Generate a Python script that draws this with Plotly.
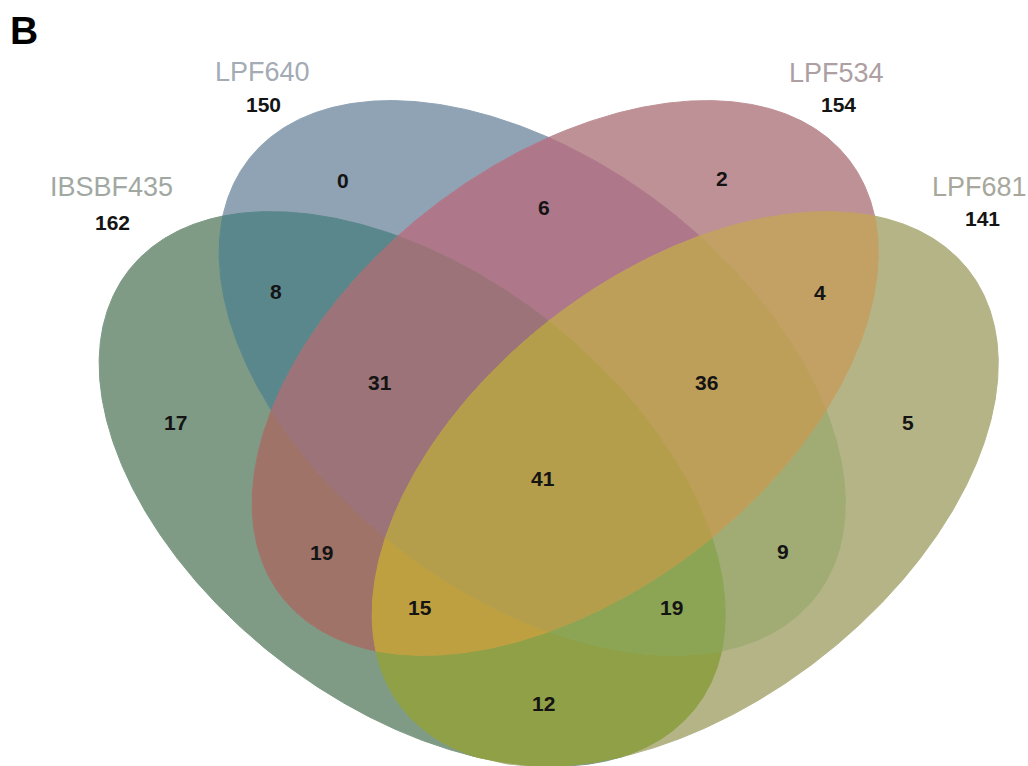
import numpy as np
import plotly.graph_objects as go

# ---- data -------------------------------------------------------------
set_names = ["IBSBF435", "LPF640", "LPF534", "LPF681"]
set_totals = [162, 150, 154, 141]

# region membership (IBSBF435, LPF640, LPF534, LPF681) -> count
region_keys = ["1000", "0100", "0010", "0001",
               "1100", "0110", "0011", "1010", "0101", "1001",
               "1110", "0111", "1011", "1101", "1111"]
region_counts = [17, 0, 2, 5,
                 8, 6, 4, 19, 9, 12,
                 31, 36, 15, 19, 41]

# ---- layout (drawing units = screen pixels, y pointing down) ----------
AXIS_X = 548.7
ELL_A, ELL_B, ELL_TILT = 358.0, 216.4, np.radians(37.5)
# (centre x, centre y, tilt sign) for each set, in set order
ell_layout = [(AXIS_X - 136.5, 489.0, +1),
              (AXIS_X - 16.5, 378.0, +1),
              (AXIS_X + 16.5, 378.0, -1),
              (AXIS_X + 136.5, 489.0, -1)]
ells = [(cx, cy, ELL_A, ELL_B, s*ELL_TILT) for cx, cy, s in ell_layout]


def ell_xy(e, t):
    cx, cy, a, b, th = e
    ct, st = np.cos(th), np.sin(th)
    return (cx + a*np.cos(t)*ct - b*np.sin(t)*st,
            cy + a*np.cos(t)*st + b*np.sin(t)*ct)


def ell_f(e, x, y):
    cx, cy, a, b, th = e
    dx, dy = x - cx, y - cy
    ct, st = np.cos(th), np.sin(th)
    u = dx*ct + dy*st; v = -dx*st + dy*ct
    return (u/a)**2 + (v/b)**2 - 1


# split every outline into arcs at its crossings with the other outlines
N = 8000
arcs = []
for k, e in enumerate(ells):
    t = np.linspace(0, 2*np.pi, N, endpoint=False)
    x, y = ell_xy(e, t)
    cuts = []
    for j, f in enumerate(ells):
        if j == k:
            continue
        g = np.sign(ell_f(f, x, y))
        for i in np.nonzero(g != np.roll(g, -1))[0]:
            t0, t1 = t[i], t[i] + 2*np.pi/N
            g0 = g[i]
            for _ in range(60):
                tm = 0.5*(t0 + t1)
                if np.sign(ell_f(f, *ell_xy(e, tm))) == g0:
                    t0 = tm
                else:
                    t1 = tm
            cuts.append((0.5*(t0 + t1)) % (2*np.pi))
    cuts = np.sort(cuts)
    for i in range(len(cuts)):
        ta = cuts[i]; tb = cuts[(i+1) % len(cuts)]
        if tb <= ta:
            tb += 2*np.pi
        ts = np.linspace(ta, tb, max(int((tb-ta)/(2*np.pi)*1200), 6))
        px, py = ell_xy(e, ts)
        mx, my = ell_xy(e, 0.5*(ta + tb))
        mem = [ell_f(f, mx, my) < 0 for f in ells]
        mi = mem.copy(); mi[k] = True
        mo = mem.copy(); mo[k] = False
        arcs.append((px, py, "".join("1" if q else "0" for q in mi),
                     "".join("1" if q else "0" for q in mo)))


def region_outline(key):
    """Chain the arcs bounding one region into closed loops."""
    segs = [(a[0], a[1]) for a in arcs if a[2] == key or a[3] == key]
    used = [False]*len(segs)
    X, Y = [], []
    for s0 in range(len(segs)):
        if used[s0]:
            continue
        used[s0] = True
        xs = list(segs[s0][0]); ys = list(segs[s0][1])
        while True:
            ex, ey = xs[-1], ys[-1]
            best, bd, rev = None, 1e18, False
            for i, (sx, sy) in enumerate(segs):
                if used[i]:
                    continue
                d0 = np.hypot(sx[0]-ex, sy[0]-ey); d1 = np.hypot(sx[-1]-ex, sy[-1]-ey)
                if d0 < bd:
                    best, bd, rev = i, d0, False
                if d1 < bd:
                    best, bd, rev = i, d1, True
            if best is None or np.hypot(xs[0]-ex, ys[0]-ey) <= bd:
                break
            used[best] = True
            sx, sy = segs[best]
            if rev:
                sx, sy = sx[::-1], sy[::-1]
            xs += list(sx[1:]); ys += list(sy[1:])
        X += xs + [None]; Y += ys + [None]
    return X, Y


region_colors = {
    "1000": "#7f9b85", "0100": "#8fa3b4", "0010": "#be9196", "0001": "#b4b487",
    "1100": "#5a878c", "0110": "#af788a", "0011": "#c3a064", "1010": "#a07369",
    "0101": "#a0ac73", "1001": "#8fa046", "1110": "#9b7378", "0111": "#be9f5a",
    "1011": "#bea041", "1101": "#8ca555", "1111": "#b49e4b",
}
label_pos = {
    "1000": (175, 422), "0100": (343, 180), "0010": (722, 178), "0001": (908, 422),
    "1100": (276, 291), "0110": (544, 207), "0011": (820, 292), "1010": (321, 552),
    "0101": (783, 551), "1001": (543, 703), "1110": (380, 382), "0111": (706, 382),
    "1011": (420, 607), "1101": (671, 607), "1111": (543, 478),
}
name_pos = [(111, 187), (262, 72), (836, 73), (979, 187)]
total_pos = [(112, 222), (263, 104), (838, 104), (982, 218)]
name_colors = ["#a1a8a2", "#a3abb5", "#ad9fa2", "#a7a89b"]
FONT = "Liberation Sans, Arial, sans-serif"

fig = go.Figure()
for key in region_keys:
    X, Y = region_outline(key)
    fig.add_trace(go.Scatter(x=X, y=Y, mode="lines", fill="toself",
                             fillcolor=region_colors[key],
                             line=dict(color=region_colors[key], width=1),
                             hoverinfo="skip", showlegend=False))

ann = []
for key, n in zip(region_keys, region_counts):
    x, y = label_pos[key]
    ann.append(dict(x=x, y=y, text=f"<b>{n}</b>", showarrow=False,
                    font=dict(family=FONT, size=21, color="#141414")))
for nm, tot, (nx, ny), (tx, ty), c in zip(set_names, set_totals, name_pos, total_pos, name_colors):
    ann.append(dict(x=nx, y=ny, text=nm, showarrow=False,
                    font=dict(family=FONT, size=27, color=c)))
    ann.append(dict(x=tx, y=ty, text=f"<b>{tot}</b>", showarrow=False,
                    font=dict(family=FONT, size=21, color="#141414")))
ann.append(dict(x=24, y=30, text="<b>B</b>", showarrow=False,
                font=dict(family=FONT, size=39, color="#000000")))

fig.update_layout(
    width=1028, height=766, margin=dict(l=0, r=0, t=0, b=0),
    paper_bgcolor="white", plot_bgcolor="white", annotations=ann,
    xaxis=dict(range=[0, 1028], visible=False, fixedrange=True),
    yaxis=dict(range=[766, 0], visible=False, fixedrange=True),
)
fig.write_html("out.html")
